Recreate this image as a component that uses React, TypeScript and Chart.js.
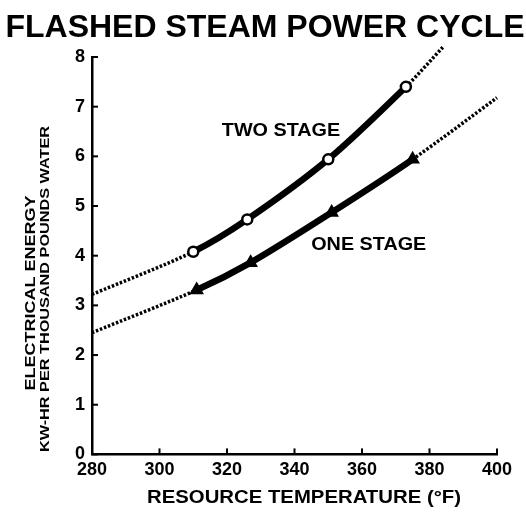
import React, { useEffect, useRef } from "react";
import { Chart, registerables } from "chart.js";

Chart.register(...registerables);

const chartTitle = "FLASHED STEAM POWER CYCLE";
const xAxisTitle = "RESOURCE TEMPERATURE (°F)";
const yAxisTitleMain = "ELECTRICAL ENERGY";
const yAxisTitleSub = "KW-HR PER THOUSAND POUNDS WATER";

const xTicks = [280, 300, 320, 340, 360, 380, 400];
const yTicks = [0, 1, 2, 3, 4, 5, 6, 7, 8];

// Two stage: first and last points are ends of the dotted extrapolation
const twoStageTemp = [280, 310, 326, 350, 373, 384];
const twoStageEnergy = [3.22, 4.08, 4.73, 5.94, 7.4, 8.2];
const twoStageLabel = "TWO STAGE";
const twoStageLabelAt = [336, 6.5];

const oneStageTemp = [280, 311, 327, 351, 375, 400];
const oneStageEnergy = [2.45, 3.31, 3.86, 4.87, 5.94, 7.18];
const oneStageLabel = "ONE STAGE";
const oneStageLabelAt = [362, 4.22];

const FONT = "'Liberation Sans', Arial, Helvetica, sans-serif";

function makeDataset(label: string, xs: number[], ys: number[], pointStyle: string, fill: string) {
  const last = xs.length - 1;
  const isDotted = (c: any) => c.p0DataIndex === 0 || c.p1DataIndex === last;
  return {
    label,
    data: xs.map((x, i) => ({ x, y: ys[i] })),
    borderColor: "#000",
    borderWidth: 6,
    tension: 0.3,
    clip: false as any,
    pointStyle,
    pointRadius: (c: any) => (c.dataIndex === 0 || c.dataIndex === last ? 0 : pointStyle === "triangle" ? 6 : 5),
    pointBackgroundColor: fill,
    pointBorderColor: "#000",
    pointBorderWidth: 2.5,
    segment: {
      borderDash: (c: any) => (isDotted(c) ? [2.5, 1.8] : undefined),
      borderWidth: (c: any) => (isDotted(c) ? 3.5 : 6.5),
    },
  };
}

function stretchedText(ctx: any, text: string, x: number, y: number, font: string, stretch: number, rotate: boolean) {
  ctx.save();
  ctx.translate(x, y);
  if (rotate) ctx.rotate(-Math.PI / 2);
  ctx.scale(stretch, 1);
  ctx.font = font;
  ctx.textAlign = "center";
  ctx.textBaseline = "middle";
  ctx.fillText(text, 0, 0);
  ctx.restore();
}

const textPlugin = {
  id: "textPlugin",
  afterDraw(chart: any) {
    const { ctx, chartArea, scales } = chart;
    const xs = scales.x;
    const ys = scales.y;
    ctx.save();
    ctx.fillStyle = "#000";
    ctx.strokeStyle = "#000";

    // inward tick marks
    ctx.lineWidth = 2;
    yTicks.forEach((v) => {
      const py = ys.getPixelForValue(v);
      ctx.beginPath();
      ctx.moveTo(chartArea.left, py);
      ctx.lineTo(chartArea.left + 6, py);
      ctx.stroke();
    });
    xTicks.forEach((v) => {
      const px = xs.getPixelForValue(v);
      ctx.beginPath();
      ctx.moveTo(px, chartArea.bottom);
      ctx.lineTo(px, chartArea.bottom - 6);
      ctx.stroke();
    });

    // chart title
    ctx.textAlign = "center";
    ctx.textBaseline = "alphabetic";
    ctx.font = `bold 32px ${FONT}`;
    ctx.fillText(chartTitle, 265, 37);

    // series labels
    stretchedText(ctx, twoStageLabel, xs.getPixelForValue(twoStageLabelAt[0]), ys.getPixelForValue(twoStageLabelAt[1]), `bold 18px ${FONT}`, 1.1, false);
    stretchedText(ctx, oneStageLabel, xs.getPixelForValue(oneStageLabelAt[0]), ys.getPixelForValue(oneStageLabelAt[1]), `bold 18px ${FONT}`, 1.1, false);

    // x axis title
    stretchedText(ctx, xAxisTitle, 304, 498, `bold 18px ${FONT}`, 1.13, false);

    // y axis titles (rotated)
    stretchedText(ctx, yAxisTitleMain, 31, 293, `bold 15px ${FONT}`, 1.2, true);
    stretchedText(ctx, yAxisTitleSub, 45, 289, `bold 13px ${FONT}`, 1.25, true);

    ctx.restore();
  },
};

export default function App() {
  const ref = useRef<HTMLCanvasElement | null>(null);
  useEffect(() => {
    if (!ref.current) return;
    const chart = new Chart(ref.current, {
      type: "line",
      data: {
        datasets: [
          makeDataset(twoStageLabel, twoStageTemp, twoStageEnergy, "circle", "#fff") as any,
          makeDataset(oneStageLabel, oneStageTemp, oneStageEnergy, "triangle", "#000") as any,
        ],
      },
      options: {
        responsive: false,
        animation: false,
        layout: { padding: { left: 68, right: 29, top: 57, bottom: 29 } },
        plugins: { legend: { display: false }, tooltip: { enabled: false }, title: { display: false } },
        scales: {
          x: {
            type: "linear",
            min: 280,
            max: 400,
            afterBuildTicks: (s: any) => {
              s.ticks = xTicks.map((v) => ({ value: v }));
            },
            ticks: { color: "#000", font: { family: FONT, size: 18, weight: "bold" }, padding: 5 },
            grid: { display: true, drawOnChartArea: false, drawTicks: false },
            border: { display: true, color: "#000", width: 2.5 },
          },
          y: {
            type: "linear",
            min: 0,
            max: 8,
            afterBuildTicks: (s: any) => {
              s.ticks = yTicks.map((v) => ({ value: v }));
            },
            ticks: { color: "#000", font: { family: FONT, size: 18, weight: "bold" }, padding: 7 },
            grid: { display: true, drawOnChartArea: false, drawTicks: false },
            border: { display: true, color: "#000", width: 2.5 },
          },
        },
      },
      plugins: [textPlugin],
    });
    return () => chart.destroy();
  }, []);
  return (
    <div style={{ position: "absolute", left: 0, top: 0, width: 526, height: 515, background: "#fff" }}>
      <canvas ref={ref} width={526} height={515} />
    </div>
  );
}
